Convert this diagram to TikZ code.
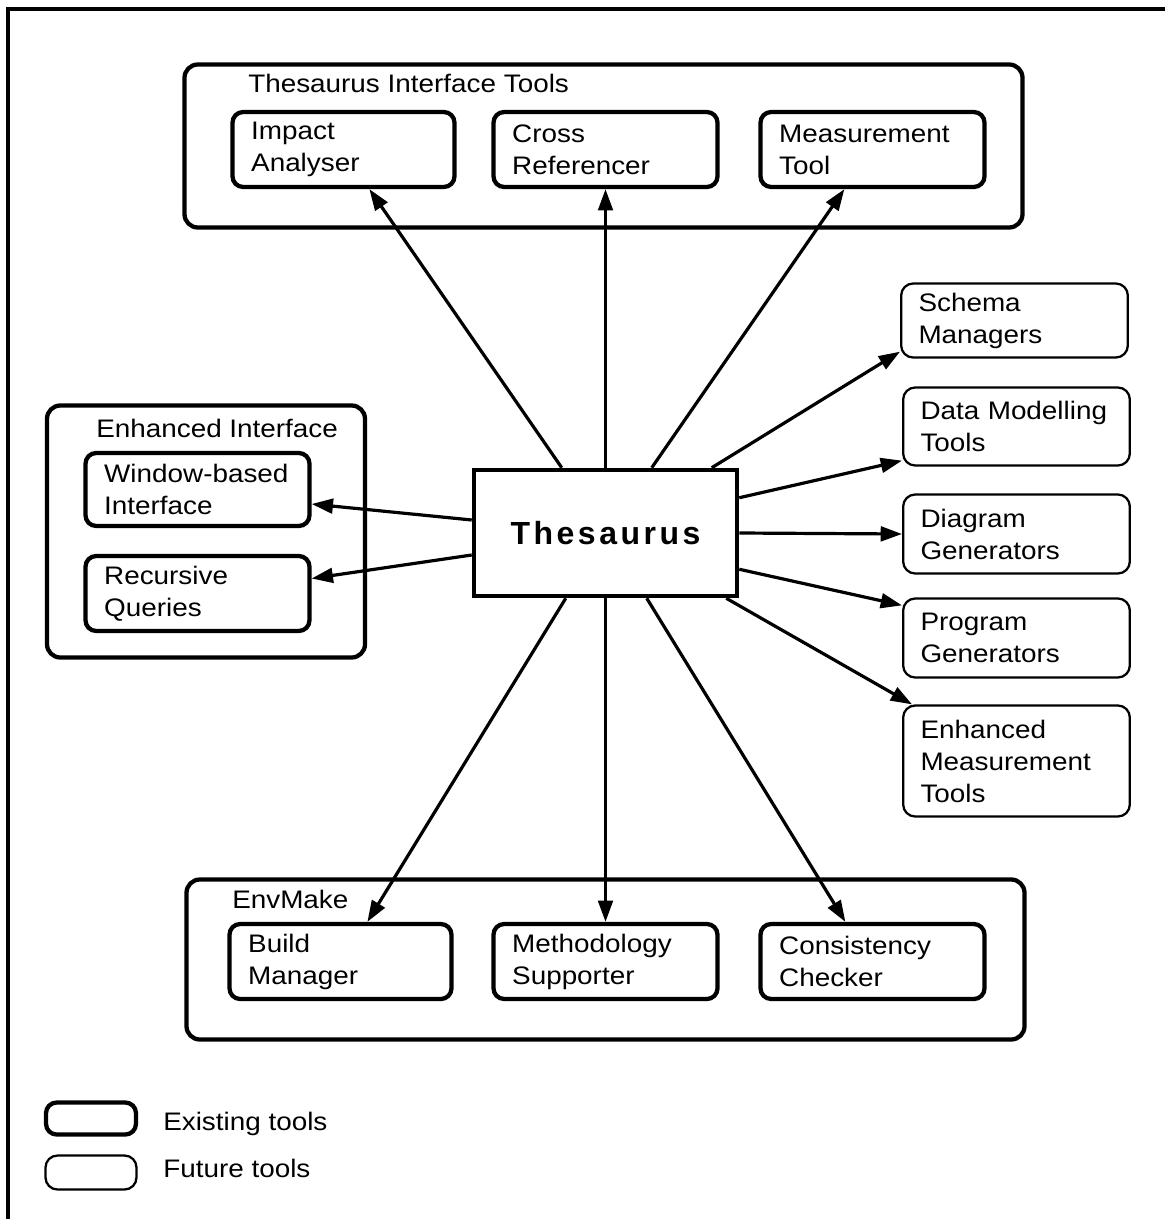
\documentclass[tikz,border=0pt]{standalone}
\usepackage{fontspec}
\setmainfont{Liberation Sans}[FakeStretch=1.1]
\newfontfamily\thesfont{Liberation Sans}[LetterSpace=11]
\usetikzlibrary{arrows.meta,calc}
\begin{document}
\begin{tikzpicture}[x=0.75pt,y=-0.75pt,
  every node/.style={font=\fontsize{19}{24}\selectfont},
  group/.style={draw, line width=3.2pt, rounded corners=10pt, inner sep=0pt},
  exist/.style={draw, line width=3.2pt, rounded corners=8pt, inner xsep=14pt, inner ysep=0pt, align=left},
  future/.style={draw, line width=1.7pt, rounded corners=9pt, inner xsep=13pt, inner ysep=0pt, align=left},
  wA/.style={minimum width=166.5pt, text width=138.5pt},
  wB/.style={minimum width=168pt, text width=140pt},
  wC/.style={minimum width=170pt, text width=144pt},
  title/.style={anchor=base west, inner sep=0pt},
  conn/.style={line width=2.4pt, -{Triangle[length=16pt,width=11pt]}}
]
\useasboundingbox (0,0) rectangle (1165,1219);
% frame
\draw[line width=3pt] (8,1219) -- (8,9) -- (1165,9);

% group boxes
\node[group, minimum width=628.5pt, minimum height=122.25pt] (tit) at (603.5,146) {};
\node[group, minimum width=238.5pt, minimum height=189pt] (enhint) at (206,531.5) {};
\node[group, minimum width=628.5pt, minimum height=120pt] (env) at (605.5,959.5) {};

\node[title] (titT) at (248,93) {Thesaurus Interface Tools};
\node[title] (titE) at (96,437) {Enhanced Interface};
\node[title] (titM) at (232,908) {EnvMake};

% existing tools
\node[exist, wA, minimum height=56.25pt] (imp) at (343.5,149.5) {Impact\\Analyser};
\node[exist, wB, minimum height=56.25pt] (cross) at (605.5,149.5) {Cross\\Referencer};
\node[exist, wB, minimum height=56.25pt] (meas) at (872.5,149.5) {Measurement\\Tool};
\node[exist, wB, minimum height=54.75pt] (win) at (197.5,489.5) {Window-based\\Interface};
\node[exist, wB, minimum height=56.25pt] (rec) at (197.5,593.5) {Recursive\\Queries};
\node[exist, wA, minimum height=56.25pt] (build) at (340.5,961.5) {Build\\Manager};
\node[exist, wB, minimum height=56.25pt] (meth) at (605.5,961.5) {Methodology\\Supporter};
\node[exist, wB, minimum height=56.25pt] (cons) at (872.5,961.5) {Consistency\\Checker};

% future tools
\node[future, wC, minimum height=55.5pt] (schema) at (1014.5,320.5) {Schema\\Managers};
\node[future, wC, minimum height=58.5pt] (data) at (1016.5,426.5) {Data Modelling\\Tools};
\node[future, wC, minimum height=59.25pt] (diag) at (1016.5,534) {Diagram\\Generators};
\node[future, wC, minimum height=59.25pt] (prog) at (1016.5,638) {Program\\Generators};
\node[future, wC, minimum height=83.25pt] (enh) at (1016.5,761) {Enhanced\\Measurement\\Tools};

% central node
\node[draw, line width=3.4pt, minimum width=197.25pt, minimum height=94.5pt,
      font=\thesfont\bfseries\fontsize{24}{28}\selectfont] (thes) at (605.5,533) {Thesaurus};

% connectors
\draw[conn] ($(thes.north west)+(90,0)$) -- ($(imp.south west)+(139,0)$);
\draw[conn] (thes.north) -- (cross.south);
\draw[conn] ($(thes.north west)+(180,0)$) -- ($(meas.south west)+(86,0)$);
\draw[conn] ($(thes.north west)+(240,0)$) -- ($(schema.south west)+(0,-7)$);
\draw[conn] ($(thes.north east)+(0,30)$) -- ($(data.south west)+(0,-6)$);
\draw[conn] (thes.east) -- (diag.west);
\draw[conn] ($(thes.south east)+(0,-29)$) -- ($(prog.north west)+(0,8)$);
\draw[conn] ($(thes.south east)+(-13,0)$) -- ($(enh.north west)+(10,0)$);
\draw[conn] ($(thes.west)+(0,-13)$) -- ($(win.east)+(0,14.5)$);
\draw[conn] ($(thes.west)+(0,22)$) -- ($(rec.east)+(0,-15)$);
\draw[conn] ($(thes.south west)+(94,0)$) -- ($(build.north west)+(140,0)$);
\draw[conn] (thes.south) -- (meth.north);
\draw[conn] ($(thes.south west)+(175,0)$) -- ($(cons.north west)+(87,0)$);

% legend
\node[exist, minimum width=67.5pt, minimum height=24pt] (legex) at (91,1118.5) {};
\node[future, minimum width=68.25pt, minimum height=25.5pt] (legfu) at (91,1172.5) {};
\node[title] (legexT) at (163,1130) {Existing tools};
\node[title] (legfuT) at (163,1177) {Future tools};
\end{tikzpicture}
\end{document}
